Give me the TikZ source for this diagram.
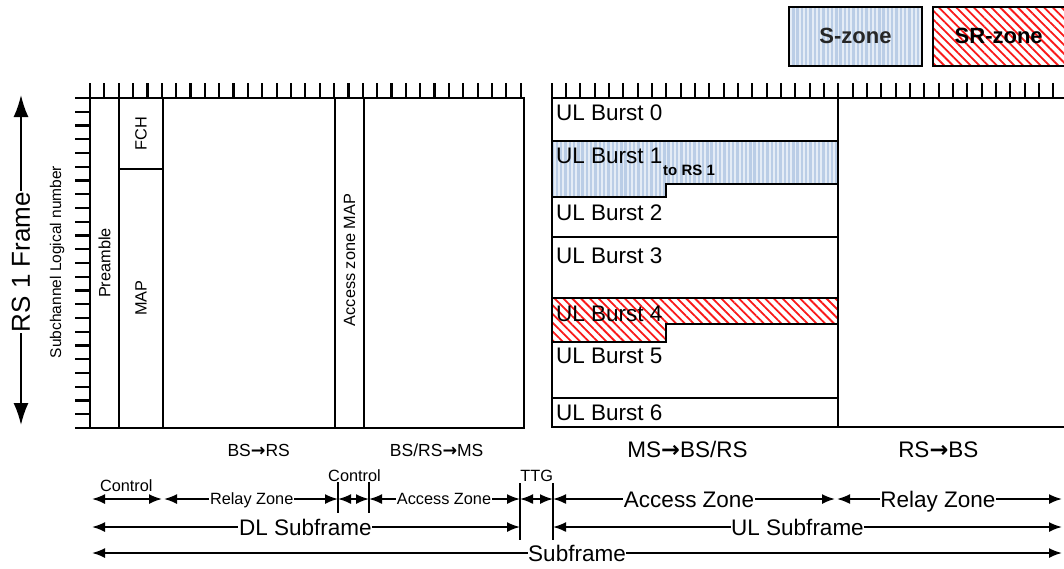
\documentclass[tikz,border=0pt]{standalone}
\usepackage{fontspec}
\setmainfont{Liberation Sans}
\newfontfamily\arrfont{DejaVu Sans}
\usetikzlibrary{arrows.meta,patterns.meta}
\definecolor{szbg}{RGB}{186,205,230}
\definecolor{szstripe}{RGB}{228,236,246}
\definecolor{srred}{RGB}{250,25,25}
\newcommand{\myra}{{\arrfont\bfseries →}}
\newcommand{\myfsS}{\fontsize{16.3}{19}\selectfont}
\newcommand{\myfsD}{\fontsize{17.5}{20}\selectfont}
\newcommand{\myfsL}{\fontsize{22.5}{26}\selectfont}
\newcommand{\myfsB}{\fontsize{22}{26}\selectfont\bfseries}
\newcommand{\myfsT}{\fontsize{15}{18}\selectfont\bfseries}
\newcommand{\myfsR}{\fontsize{26}{30}\selectfont}
\newcommand{\myfsC}{\fontsize{15.5}{18}\selectfont}
\begin{document}
\begin{tikzpicture}[x=1pt,y=-1pt,
  ln/.style={line width=2.2pt, line join=miter},
  vln/.style={line width=1.6pt},
  dimarr/.style={line width=1.8pt,{Latex[length=13pt,width=10pt]}-{Latex[length=13pt,width=10pt]}},
  onl/.style={fill=white, inner xsep=0.6pt, inner ysep=0pt, anchor=base},
  plain/.style={inner sep=0pt, anchor=base},
  burst/.style={inner sep=0pt, anchor=base west, font=\myfsL},
  rot/.style={rotate=90, inner sep=0pt, font=\myfsS},
  szfill/.style={preaction={fill=szbg}, pattern={Lines[angle=90,distance=4.3pt,line width=1.9pt]}, pattern color=szstripe},
  srfill/.style={preaction={fill=white}, pattern={Lines[angle=-45,distance=6.2pt,line width=1.8pt]}, pattern color=srred},
]
\useasboundingbox (0,0) rectangle (1064,568);
\clip (0,0) rectangle (1064,568);

% ---------- legend ----------
\draw[ln, szfill] (789,7) rectangle (922,66);
\node[plain, font=\myfsB, text=black!85] (szl) at (855.5,43.5) {S-zone};
\draw[ln, srfill] (933,7) rectangle (1080,66);
\node[plain, font=\myfsB] (srl) at (998.7,43.5) {SR-zone};

% ---------- left frame ----------
\foreach \i in {0,...,30} \draw[ln] ({90+\i*14.357},83) -- ++(0,15);
\foreach \i in {0,...,24} \draw[ln] (75,{98+\i*13.75}) -- ++(15,0);
\draw[ln] (75,98) -- (524,98) -- (524,428) -- (75,428);
\draw[ln] (90,83) -- (90,428);
\draw[ln] (119,98) -- (119,428);
\draw[ln] (163,98) -- (163,428);
\draw[ln] (335,98) -- (335,428);
\draw[ln] (364,98) -- (364,428);
\draw[ln] (119,169) -- (163,169);

\node[rot] (pre) at (104.5,263) {Preamble};
\node[rot] (fch) at (141,133.5) {FCH};
\node[rot] (map) at (141,298) {MAP};
\node[rot] (azm) at (349.5,260) {Access zone MAP};
\node[rotate=90, inner sep=0pt, font=\myfsC] (scl) at (57,262) {Subchannel Logical number};

% RS 1 Frame arrow
\coordinate (rtop) at (21,95);
\coordinate (rbot) at (21,425);
\draw[line width=1.9pt, {Latex[length=22pt,width=15pt]}-{Latex[length=22pt,width=15pt]}] (rtop) -- (rbot);
\node[rotate=90, fill=white, inner xsep=1pt, inner ysep=0pt, font=\myfsR] (rsf) at (21,262) {RS 1 Frame};

% ---------- right frame ----------
\draw[ln, szfill] (551.7,141) -- (838,141) -- (838,184) -- (666,184) -- (666,197) -- (551.7,197) -- cycle;
\draw[ln, srfill] (551.7,298) -- (838,298) -- (838,324) -- (666,324) -- (666,342) -- (551.7,342) -- cycle;
\foreach \i in {0,...,36} \draw[ln] ({551.7+\i*14.33},83) -- ++(0,15);
\draw[ln] (1075,98) -- (551.7,98) -- (551.7,427) -- (1075,427);
\draw[ln] (838,98) -- (838,427);
\draw[ln] (551.7,237) -- (838,237);
\draw[ln] (551.7,398) -- (838,398);

\node[burst] (b0) at (556,120) {UL Burst 0};
\node[burst] (b1) at (556,163) {UL Burst 1};
\node[inner sep=0pt, anchor=base west, font=\myfsT] (trs) at (663,175) {to RS 1};
\node[burst] (b2) at (556,220) {UL Burst 2};
\node[burst] (b3) at (556,263) {UL Burst 3};
\node[burst] (b4) at (556,321) {UL Burst 4};
\node[burst] (b5) at (556,363) {UL Burst 5};
\node[burst] (b6) at (556,420) {UL Burst 6};

% ---------- direction labels ----------
\node[plain, font=\myfsD] (d1) at (258.7,456) {BS\myra RS};
\node[plain, font=\myfsD] (d2) at (436.7,456) {BS/RS\myra MS};
\node[plain, font=\myfsL] (d3) at (687.5,457.5) {MS\myra BS/RS};
\node[plain, font=\myfsL] (d4) at (938.3,457.5) {RS\myra BS};

% ---------- timing arrows ----------
\coordinate (a0) at (92,499);
\coordinate (a1) at (162,499);
\coordinate (a1b) at (164,499);
\coordinate (a2) at (338,499);
\coordinate (a3) at (369,499);
\coordinate (a4) at (520,499);
\coordinate (a5) at (553,499);
\coordinate (a6) at (835,499);
\coordinate (a6b) at (837,499);
\coordinate (a7) at (1062,499);
\coordinate (s0) at (92,527);
\coordinate (s1) at (520,527);
\coordinate (s2) at (553,527);
\coordinate (s3) at (1062,527);
\coordinate (f0) at (92,553);
\coordinate (f1) at (1062,553);

\draw[vln] (338,482) -- (338,513);
\draw[vln] (369,482) -- (369,513);
\draw[vln] (520,483) -- (520,540);
\draw[vln] (553,483) -- (553,540);

\draw[dimarr] (a0) -- (a1);
\draw[dimarr] (a1b) -- (a2);
\draw[dimarr] (a2) -- (a3);
\draw[dimarr] (a3) -- (a4);
\draw[dimarr] (a4) -- (a5);
\draw[dimarr] (a5) -- (a6);
\draw[dimarr] (a6b) -- (a7);
\draw[dimarr] (s0) -- (s1);
\draw[dimarr] (s2) -- (s3);
\draw[dimarr] (f0) -- (f1);

\node[plain, font=\myfsS] (ct1) at (126.3,491) {Control};
\node[plain, font=\myfsS] (ct2) at (354.5,481) {Control};
\node[plain, font=\myfsS] (ttg) at (536.7,481) {TTG};
\node[onl, font=\myfsS] (rz1) at (251.7,504.8) {Relay Zone};
\node[onl, font=\myfsS] (az1) at (444,504.8) {Access Zone};
\node[onl, font=\myfsL] (az2) at (689,507.2) {Access Zone};
\node[onl, font=\myfsL] (rz2) at (938,507.2) {Relay Zone};
\node[onl, font=\myfsL] (dls) at (305.3,535.2) {DL Subframe};
\node[onl, font=\myfsL] (uls) at (797.5,535.2) {UL Subframe};
\node[onl, font=\myfsL] (sf) at (577,561.2) {Subframe};
\end{tikzpicture}
\end{document}
